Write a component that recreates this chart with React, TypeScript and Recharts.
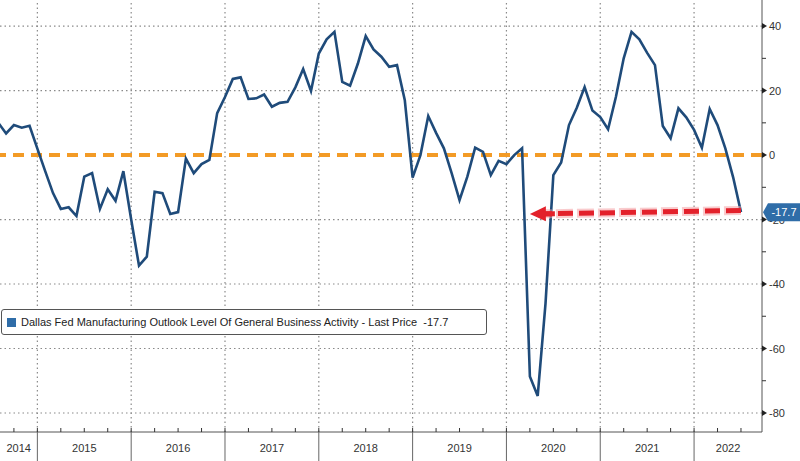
import React from "react";
import { LineChart, Line, XAxis, YAxis, ReferenceLine } from "recharts";

// ---- data -------------------------------------------------------------
const years = [2014, 2015, 2016, 2017, 2018, 2019, 2020, 2021, 2022];
// first month (1 = Jan) of each year's list
const firstMonth = [7, 1, 1, 1, 1, 1, 1, 1, 1];
const v2014 = [10, 6.7, 9.3, 8.5, 9.1, 2];
const v2015 = [-5, -11.8, -16.7, -16.2, -18.9, -6.7, -5.6, -16.7, -10.6, -14.2, -5, -20];
const v2016 = [-34.3, -31.5, -11.4, -11.8, -18.3, -17.7, -1.1, -5.6, -2.8, -1.5, 13, 18];
const v2017 = [23.6, 24.1, 17.4, 17.6, 18.8, 15, 16.2, 16.5, 21, 26.7, 19.9, 31.5];
const v2018 = [35.9, 38.2, 22.7, 21.5, 28.4, 36.9, 32.8, 30.5, 27.4, 27.9, 17, -7];
const v2019 = [0, 12.1, 6.9, 2.1, -5.7, -14, -6.7, 2.3, 1.0, -6.2, -1.8, -2.8];
const v2020 = [0, 2.1, -68.7, -74.7, -46, -6.2, -2.3, 9.3, 14.7, 21.1, 13.8, 11.8];
const v2021 = [8, 18, 30, 38.2, 35.9, 31.7, 27.9, 9, 5.2, 14.5, 11.7, 7.8];
const v2022 = [2.3, 14.3, 9.3, 2.1, -6.9, -17.7];
const yearValues = [v2014, v2015, v2016, v2017, v2018, v2019, v2020, v2021, v2022];

const seriesName =
  "Dallas Fed Manufacturing Outlook Level Of General Business Activity - Last Price";
const lastPrice = -17.7;

const yTicks = [-80, -70, -60, -50, -40, -30, -20, -10, 0, 10, 20, 30, 40];
const yLabelled = [-80, -60, -40, -20, 0, 20, 40];
const yGrid = [-80, -60, -40, -20, 20, 40];

const arrowStart = { year: 2020, month: 3, value: -18.3 };
const arrowEnd = { year: 2022, month: 6, value: -17.2 };

// visible window, in months since Jan 2014
const xDomain: [number, number] = [6.22, 103.69];
const yDomain: [number, number] = [-85.9, 48.1];

// ---- derived ----------------------------------------------------------
const mi = (y: number, m: number) => (y - 2014) * 12 + (m - 1);

const data: { t: number; v: number }[] = [];
years.forEach((y, yi) => {
  yearValues[yi].forEach((v, i) => data.push({ t: mi(y, firstMonth[yi] + i), v }));
});

const boundaries = years.slice(1).map((y) => mi(y, 1) - 1);
const labelCenters = years.map((y) => {
  const s = Math.max(mi(y, 1) - 1, xDomain[0]);
  const e = Math.min(mi(y, 12), xDomain[1]);
  return { t: (s + e) / 2, label: String(y) };
});
const quarterTicks: number[] = [];
for (let t = Math.ceil(xDomain[0]); t <= xDomain[1]; t++) if (t % 3 === 2) quarterTicks.push(t);
const xTicks = Array.from(new Set([...quarterTicks, ...labelCenters.map((c) => c.t)])).sort(
  (a, b) => a - b
);
const quarterSet = new Set(quarterTicks);
const boundarySet = new Set(boundaries);
const labelMap = new Map(labelCenters.map((c) => [c.t, c.label]));

const FONT = "'Liberation Sans', Arial, sans-serif";
const GRID = "#8a8a8a";

function XTick(props: any) {
  const { x, y, payload } = props;
  const t = payload.value;
  return (
    <g>
      {quarterSet.has(t) && <line x1={x} x2={x} y1={y} y2={y - 4} stroke="#333" strokeWidth={1} />}
      {boundarySet.has(t) && <line x1={x} x2={x} y1={y} y2={y + 30} stroke="#666" strokeWidth={1} />}
      {labelMap.has(t) && (
        <text
          x={x}
          y={y + 16}
          textAnchor="middle"
          dominantBaseline="central"
          fontFamily={FONT}
          fontSize={11}
          fill="#333"
        >
          {labelMap.get(t)}
        </text>
      )}
    </g>
  );
}

function YTick(props: any) {
  const { x, y, payload } = props;
  const v = payload.value;
  if (v === lastPrice) {
    return (
      <g>
        <polygon
          points={`${x + 1},${y} ${x + 6},${y - 9} ${x + 40},${y - 9} ${x + 40},${y + 9} ${x + 6},${y + 9}`}
          fill="#2f6da8"
        />
        <text
          x={x + 22}
          y={y}
          textAnchor="middle"
          dominantBaseline="central"
          fontFamily={FONT}
          fontSize={11}
          fill="#fff"
        >
          {String(v)}
        </text>
      </g>
    );
  }
  if (yLabelled.includes(v)) {
    return (
      <g>
        <polygon points={`${x},${y - 3} ${x + 5},${y} ${x},${y + 3}`} fill="#222" />
        <text
          x={x + 7}
          y={y}
          dominantBaseline="central"
          fontFamily={FONT}
          fontSize={11}
          fill="#333"
        >
          {String(v)}
        </text>
      </g>
    );
  }
  return <line x1={x} x2={x + 4} y1={y} y2={y} stroke="#333" strokeWidth={1} />;
}

function ArrowShape(props: any) {
  const { x1, y1, x2, y2 } = props;
  const headLen = 16;
  const bodyStart = x1 + 12;
  const dy = (y2 - y1) / (x2 - x1 || 1);
  const yAt = (x: number) => y1 + (x - x1) * dy;
  return (
    <g>
      <line
        x1={x2}
        y1={y2}
        x2={bodyStart}
        y2={yAt(bodyStart)}
        stroke="#f4a0a4"
        strokeOpacity={0.55}
        strokeWidth={9}
        strokeDasharray="17 4"
      />
      <line
        x1={x2}
        y1={y2}
        x2={bodyStart}
        y2={yAt(bodyStart)}
        stroke="#e3212b"
        strokeWidth={5}
        strokeDasharray="15 6"
      />
      <polygon
        points={`${x1},${y1} ${x1 + headLen},${yAt(x1 + headLen) - 7.5} ${x1 + headLen},${yAt(x1 + headLen) + 7.5}`}
        fill="#e3212b"
      />
      <line x1={x1 + 10} x2={x1 + 25} y1={yAt(x1 + 10)} y2={yAt(x1 + 25)} stroke="#e3212b" strokeWidth={5} />
    </g>
  );
}

export default function App() {
  return (
    <div style={{ position: "absolute", left: 0, top: 0, width: 800, height: 461, background: "#fff" }}>
      <LineChart width={800} height={461} data={data} margin={{ top: 0, right: 0, bottom: 0, left: 0 }}>
        <XAxis
          dataKey="t"
          type="number"
          domain={xDomain}
          allowDataOverflow
          ticks={xTicks}
          interval={0}
          tick={<XTick />}
          tickLine={false}
          tickSize={0}
          tickMargin={0}
          height={29}
          axisLine={{ stroke: "#555", strokeWidth: 1 }}
        />
        <YAxis
          type="number"
          orientation="right"
          domain={yDomain}
          allowDataOverflow
          ticks={[...yTicks, lastPrice]}
          interval={0}
          tick={<YTick />}
          tickLine={false}
          tickSize={0}
          tickMargin={0}
          width={38}
          axisLine={{ stroke: "#555", strokeWidth: 1 }}
        />
        {boundaries.map((b) => (
          <ReferenceLine
            key={"vx" + b}
            x={b}
            stroke={GRID}
            strokeDasharray="1.5 3"
            strokeWidth={1.2}
            ifOverflow="extendDomain"
          />
        ))}
        {yGrid.map((g) => (
          <ReferenceLine
            key={"hy" + g}
            y={g}
            stroke={GRID}
            strokeDasharray="1.5 3"
            strokeWidth={1.2}
            ifOverflow="extendDomain"
          />
        ))}
        <ReferenceLine y={0} stroke="#f39b26" strokeWidth={4} strokeDasharray="11 7" />
        <Line
          dataKey="v"
          stroke="#1f4b7a"
          strokeWidth={2.6}
          dot={false}
          activeDot={false}
          isAnimationActive={false}
        />
        <ReferenceLine
          segment={[
            { x: mi(arrowStart.year, arrowStart.month), y: arrowStart.value },
            { x: mi(arrowEnd.year, arrowEnd.month), y: arrowEnd.value },
          ]}
          shape={<ArrowShape />}
          ifOverflow="visible"
        />
      </LineChart>
      <div
        style={{
          position: "absolute",
          left: 1,
          top: 309,
          width: 486,
          height: 26,
          border: "1px solid #555",
          borderRadius: 3,
          background: "#fff",
          display: "flex",
          alignItems: "center",
          fontFamily: FONT,
          fontSize: 11,
          color: "#222",
          whiteSpace: "nowrap",
          boxSizing: "border-box",
        }}
      >
        <span
          style={{ display: "inline-block", width: 9, height: 9, background: "#2f6da8", marginLeft: 5, marginRight: 5 }}
        />
        <span>
          {seriesName}&nbsp;&nbsp;{String(lastPrice)}
        </span>
      </div>
    </div>
  );
}
